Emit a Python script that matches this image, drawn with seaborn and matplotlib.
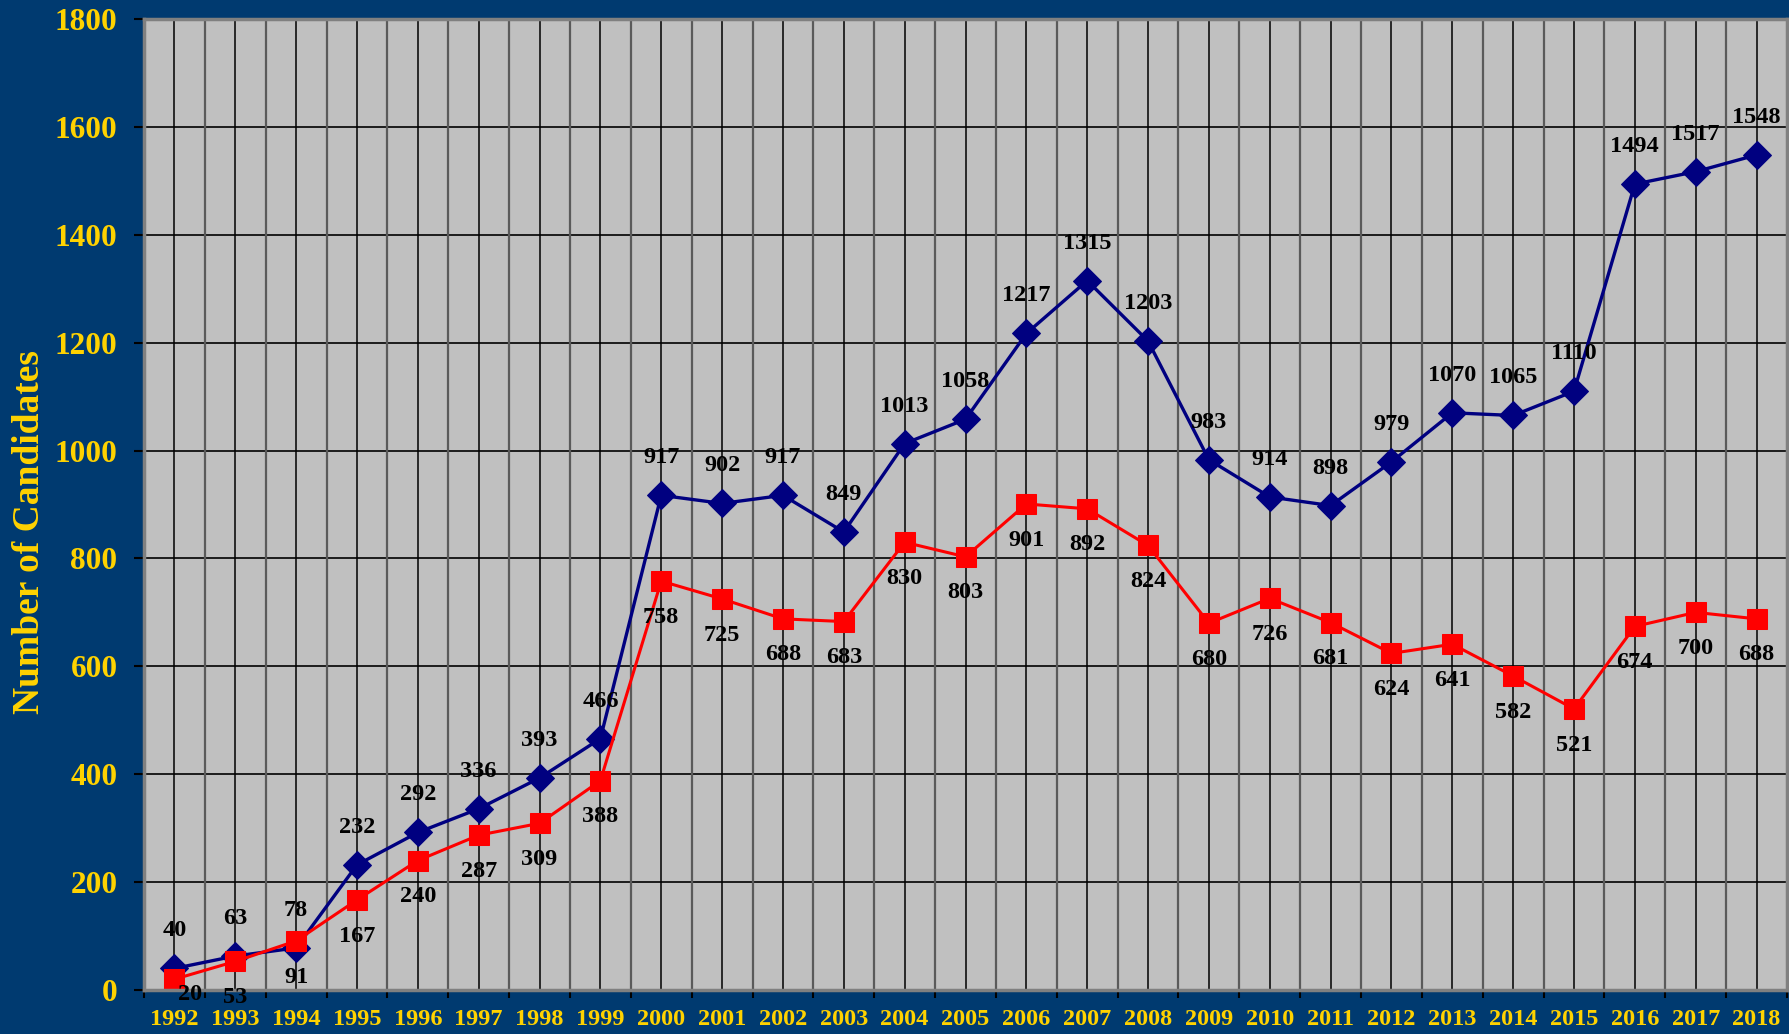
import numpy as np
import pandas as pd
import matplotlib
matplotlib.use("Agg")
import matplotlib.pyplot as plt
import seaborn as sns

# Candidate counts per year
years = list(range(1992, 2019))
series_a = [40, 63, 78, 232, 292, 336, 393, 466, 917, 902, 917, 849, 1013, 1058,
            1217, 1315, 1203, 983, 914, 898, 979, 1070, 1065, 1110, 1494, 1517, 1548]
series_b = [20, 53, 91, 167, 240, 287, 309, 388, 758, 725, 688, 683, 830, 803,
            901, 892, 824, 680, 726, 681, 624, 641, 582, 521, 674, 700, 688]
y_ticks = [0, 200, 400, 600, 800, 1000, 1200, 1400, 1600, 1800]

BG = "#003A70"
GOLD = "#FFD200"
NAVY = "#000080"
RED = "#FF0000"

sns.set_theme(style="white")
plt.rcParams["font.family"] = ["Liberation Serif", "DejaVu Serif"]
plt.rcParams["font.weight"] = "bold"

df = pd.DataFrame({"year": years, "A": series_a, "B": series_b})

fig = plt.figure(figsize=(17.9, 10.34), dpi=100, facecolor=BG)
ax = fig.add_axes([144 / 1790, 1 - 990 / 1034, (1787 - 144) / 1790, (990 - 19) / 1034])
ax.set_facecolor("#C0C0C0")

xmin, xmax = years[0] - 0.5, years[-1] + 0.5
ax.set_xlim(xmin, xmax)
ax.set_ylim(0, 1800)

# grid: horizontal at ticks, vertical at category centres and boundaries
for v in y_ticks[1:]:
    ax.axhline(v, color="black", lw=1.2, zorder=1)
for yr in years:
    ax.axvline(yr, color="black", lw=1.1, zorder=1)
for b in np.arange(xmin + 1, xmax, 1.0):
    ax.axvline(b, color="#5a5a5a", lw=1.6, zorder=1)

sns.lineplot(data=df, x="year", y="A", ax=ax, color=NAVY, lw=2.4,
             marker="D", markersize=14.5, markeredgecolor=NAVY, zorder=3)
sns.lineplot(data=df, x="year", y="B", ax=ax, color=RED, lw=2.2,
             marker="s", markersize=15, markeredgecolor=RED, zorder=4)

for x, a, b in zip(years, series_a, series_b):
    ax.annotate(str(a), (x, a), xytext=(0, 27), textcoords="offset points",
                ha="center", va="center", fontsize=17.5, fontweight="bold",
                color="black", zorder=6, annotation_clip=False)
    # the lowest label is nudged so it stays clear of the year labels
    dx, dy = (11, -11) if x == years[0] else (0, -26)
    ax.annotate(str(b), (x, b), xytext=(dx, dy), textcoords="offset points",
                ha="center", va="center", fontsize=17.5, fontweight="bold",
                color="black", zorder=6, annotation_clip=False)

ax.set_yticks(y_ticks)
ax.set_yticklabels([str(t) for t in y_ticks], fontsize=22.5, fontweight="bold", color=GOLD)
ax.set_xticks(years)
ax.set_xticklabels([str(y) for y in years], fontsize=17.5, fontweight="bold", color=GOLD)
ax.tick_params(axis="x", length=0, pad=14)
ax.tick_params(axis="y", length=7, width=1.5, color="black", direction="out", pad=12, left=True)
# boundary tick marks under the x axis
ax.set_xticks(np.arange(xmin, xmax + 0.01, 1.0), minor=True)
ax.tick_params(axis="x", which="minor", length=6, width=1.5, color="black", direction="out", bottom=True)

ax.set_xlabel("")
ax.set_ylabel("")
for s in ax.spines.values():
    s.set_color("#808080")
    s.set_linewidth(2.5)
    s.set_zorder(5)

fig.text(30 / 1790, 0.485, "Number of Candidates", rotation=90, ha="center", va="center",
         fontsize=27, fontweight="bold", color=GOLD)

fig.savefig("out.png", dpi=100, facecolor=BG)
